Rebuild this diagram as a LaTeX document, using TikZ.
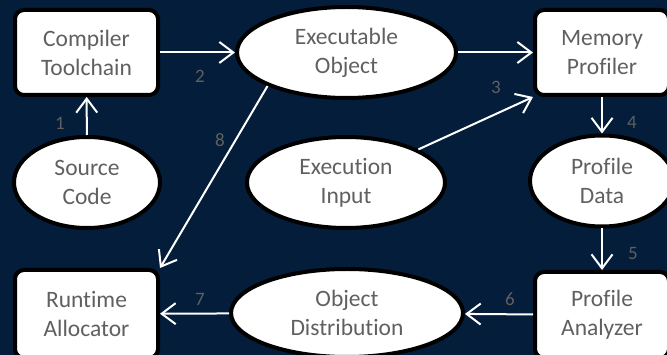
\documentclass[tikz,border=0pt]{standalone}
\usepackage{fontspec}
\setmainfont{Carlito}[Ligatures=NoCommon]
\usetikzlibrary{arrows.meta,shapes.geometric}
\definecolor{navy}{RGB}{3,29,58}
\definecolor{txtgray}{RGB}{96,96,96}
\definecolor{numgray}{RGB}{96,96,96}
\tikzset{
  x=1pt, y=-1pt,
  base/.style={draw=black, line width=4pt, fill=white, text=txtgray,
    font=\fontsize{23.5}{29}\selectfont, align=center, inner sep=0pt},
  procbox/.style={base, rectangle, rounded corners=9pt},
  databubble/.style={base, ellipse},
  link/.style={draw=white, line width=2pt,
    -{Straight Barb[length=14pt,width=21pt,line width=2pt]}},
  num/.style={text=numgray, font=\fontsize{19}{22}\selectfont, inner sep=0pt}
}
\begin{document}
\begin{tikzpicture}
  \fill[navy] (0,0) rectangle (667,355);
  \useasboundingbox (0,0) rectangle (667,355);

  % processing steps
  \node[procbox, minimum width=143pt, minimum height=85pt] (cc) at (86.5,52.5) {Compiler\\Toolchain};
  \node[procbox, minimum width=134pt, minimum height=85pt] (mp) at (602,52.5) {Memory\\Profiler};
  \node[procbox, minimum width=143pt, minimum height=88pt] (ra) at (86.5,314) {Runtime\\Allocator};
  \node[procbox, minimum width=134pt, minimum height=86pt] (pa) at (602,315) {Profile\\Analyzer};

  % data artefacts
  \node[databubble, minimum width=219pt, minimum height=91pt] (eo) at (346.5,52.5) {Executable\\Object};
  \node[databubble, minimum width=146pt, minimum height=91pt] (sc) at (87,182.5) {Source\\Code};
  \node[databubble, minimum width=198pt, minimum height=91pt] (ei) at (346,182.5) {Execution\\Input};
  \node[databubble, minimum width=144pt, minimum height=91pt] (pd) at (602,181) {Profile\\Data};
  \node[databubble, minimum width=232pt, minimum height=88pt] (od) at (347,313) {Object\\Distribution};

  % flow
  \draw[link] (sc) -- (cc);
  \draw[link] (cc) -- (eo);
  \draw[link] (eo) -- (mp);
  \draw[link] (ei) -- (mp.south west);
  \draw[link] (mp) -- (pd);
  \draw[link] (pd) -- (pa);
  \draw[link] (pa) -- (od);
  \draw[link] (od) -- (ra);
  \draw[link] (eo.203) -- (ra.north east);

  % step numbers
  \node[num] (n1) at (60,123) {1};
  \node[num] (n2) at (200,76) {2};
  \node[num] (n3) at (496,87) {3};
  \node[num] (n4) at (632,122) {4};
  \node[num] (n5) at (633,253) {5};
  \node[num] (n6) at (510,299) {6};
  \node[num] (n7) at (200,299) {7};
  \node[num] (n8) at (220,140) {8};
\end{tikzpicture}
\end{document}
